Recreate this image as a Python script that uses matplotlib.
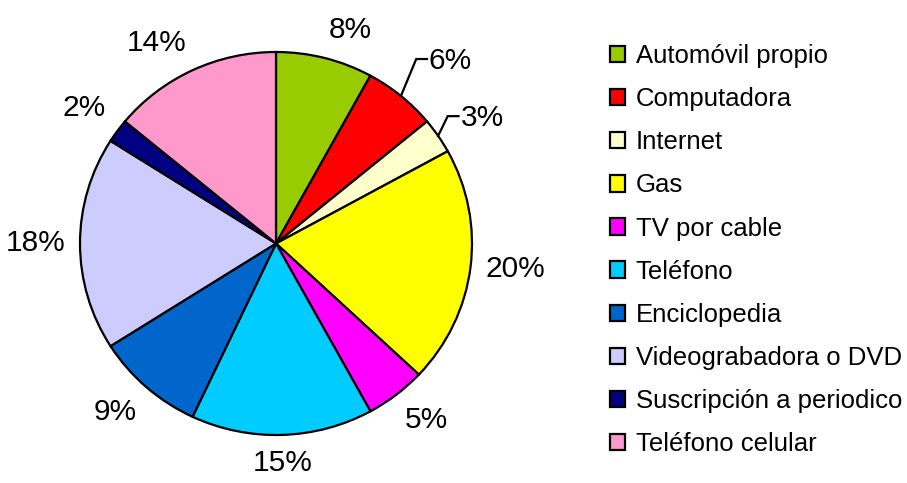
import numpy as np
import matplotlib
matplotlib.use("Agg")
import matplotlib.pyplot as plt
from matplotlib.patches import Patch

plt.rcParams['font.family'] = ['Liberation Sans', 'DejaVu Sans']

categories = ["Automóvil propio", "Computadora", "Internet", "Gas", "TV por cable",
              "Teléfono", "Enciclopedia", "Videograbadora o DVD",
              "Suscripción a periodico", "Teléfono celular"]
values = [8, 6, 3, 20, 5, 15, 9, 18, 2, 14]
colors = ["#99CC00", "#FF0000", "#FFFFCC", "#FFFF00", "#FF00FF",
          "#00CCFF", "#0066CC", "#CCCCFF", "#000080", "#FF99CC"]
# slices whose labels use a leader line, with the elbow distance (radius units)
leader_labels = {"Computadora": 1.2, "Internet": 1.1}

W, H = 907, 483
fig = plt.figure(figsize=(W / 100, H / 100), dpi=100)
px_l, px_r, px_t, px_b = 80, 472, 52, 435
ax = fig.add_axes([px_l / W, (H - px_b) / H, (px_r - px_l) / W, (px_b - px_t) / H])
wedges, _ = ax.pie(values, colors=colors, startangle=90, counterclock=False,
                   wedgeprops=dict(edgecolor="black", linewidth=1.6))
ax.set_aspect('auto')
ax.set_xlim(-1, 1)
ax.set_ylim(-1, 1)
ax.axis('off')

total = sum(values)
for w, v, cat in zip(wedges, values, categories):
    ang = np.deg2rad((w.theta1 + w.theta2) / 2)
    c, s = np.cos(ang), np.sin(ang)
    label = f"{round(100 * v / total)}%"
    if cat in leader_labels:
        r = leader_labels[cat]
        a2 = ang + np.deg2rad(3)
        x1, y1 = np.cos(a2) * r, np.sin(a2) * r
        x2 = x1 + 0.055
        ax.plot([c, x1, x2], [s, y1, y1], color="black", lw=1.6, clip_on=False,
                solid_joinstyle="miter")
        ax.text(x2 + 0.01, y1 - 0.01, label, ha="left", va="center", fontsize=21.5)
        continue
    k = 1.075
    ha = "left" if c > 0.2 else ("right" if c < -0.2 else "center")
    va = "bottom" if s > 0.25 else ("top" if s < -0.25 else "center")
    ax.text(c * k, s * k, label, ha=ha, va=va, fontsize=21.5)

handles = [Patch(facecolor=col, edgecolor="black", linewidth=1.6) for col in colors]
fig.legend(handles, categories, loc="upper left", bbox_to_anchor=(610 / W, 1 - 44 / H),
           frameon=False, fontsize=18.5, handlelength=0.6, handleheight=0.6,
           handletextpad=0.4, labelspacing=0.745, borderaxespad=0, borderpad=0)

fig.savefig("out.png", dpi=100)
